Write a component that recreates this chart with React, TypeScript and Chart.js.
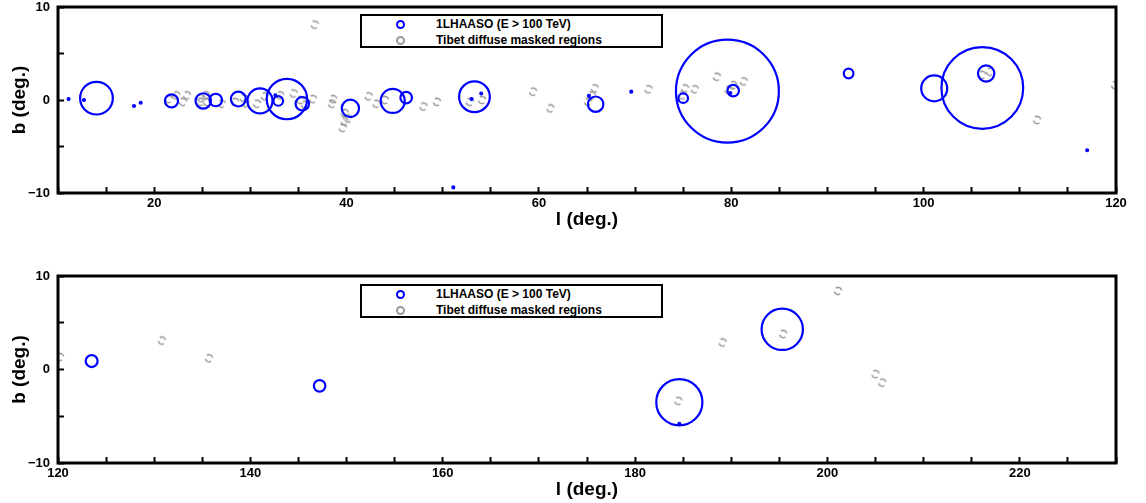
import React, { useEffect, useRef } from 'react';
import { Chart, registerables } from 'chart.js';

Chart.register(...registerables);

const FONT = '"Liberation Sans", Arial, Helvetica, sans-serif';
const BLUE = '#0000ff';
const GREY = '#9a9a9a';

// ---------- Top panel (l = 10..120) ----------
// 1LHAASO (E > 100 TeV) sources: longitude, latitude, extension radius (deg)
const topSrcL = [11.1, 12.7, 14.0, 17.9, 18.6, 21.8, 25.1, 26.4, 28.75, 31.0, 32.6, 32.9, 33.8, 35.4, 40.4, 44.8, 46.2, 51.1, 53.3, 53.0, 54.0, 65.2, 65.9, 69.6, 75.0, 79.6, 80.2, 79.9, 92.2, 101.1, 106.1, 106.5, 117.0];
const topSrcB = [0.1, 0.0, 0.2, -0.65, -0.3, -0.1, -0.1, 0.0, 0.1, -0.1, 0.5, -0.1, 0.1, -0.4, -0.9, -0.1, 0.25, -9.4, 0.35, 0.1, 0.7, 0.45, -0.45, 0.9, 0.2, 0.95, 1.0, 0.75, 2.85, 1.25, 1.3, 2.85, -5.4];
const topSrcR = [0.1, 0.1, 1.7, 0.1, 0.1, 0.68, 0.8, 0.65, 0.77, 1.3, 0.1, 0.5, 2.1, 0.7, 0.9, 1.25, 0.6, 0.1, 1.6, 0.1, 0.1, 0.1, 0.8, 0.1, 0.5, 5.35, 0.6, 0.1, 0.5, 1.35, 4.25, 0.85, 0.1];
// Tibet diffuse masked regions
const topMaskL = [21.5, 22.3, 23.0, 23.4, 24.8, 24.9, 25.5, 25.4, 27.0, 28.4, 29.3, 29.5, 30.7, 31.5, 33.1, 34.5, 35.2, 35.7, 36.5, 36.7, 38.5, 38.6, 39.8, 40.2, 39.8, 39.6, 42.3, 43.1, 44.0, 48.0, 49.4, 52.8, 54.1, 59.4, 61.2, 65.8, 65.5, 65.1, 71.4, 74.9, 75.2, 76.2, 78.5, 79.7, 80.2, 81.3, 106.1, 106.9, 111.8, 119.9];
const topMaskB = [0.1, 0.5, -0.2, 0.5, -0.2, 0.2, -0.2, 0.5, -0.4, -0.2, 0.2, -0.35, -0.4, 0.4, 0.5, 0.7, 0.0, -0.5, 0.1, 8.1, -0.4, 0.1, -1.4, -2.0, -2.3, -3.0, 0.4, -0.4, 0.0, -0.7, -0.2, -0.2, 0.0, 0.9, -0.9, 1.25, 0.5, -0.2, 1.15, 0.5, 1.25, 1.15, 2.5, 1.1, 1.6, 2.0, 2.7, 3.05, -2.15, 1.6];

// ---------- Bottom panel (l = 120..230) ----------
const botSrcL = [123.5, 147.2, 184.6, 184.6, 195.3];
const botSrcB = [0.9, -1.75, -3.5, -5.8, 4.3];
const botSrcR = [0.62, 0.6, 2.4, 0.1, 2.15];
const botMaskL = [120.2, 130.8, 135.7, 184.5, 189.1, 195.4, 201.1, 205.0, 205.7];
const botMaskB = [1.35, 3.1, 1.2, -3.35, 2.9, 3.8, 8.4, -0.5, -1.4];

// ---------- Axes ----------
const topXRange = [10, 120];
const botXRange = [120, 230];
const yRange = [-10, 10];
const topXLabels = [20, 40, 60, 80, 100, 120];
const botXLabels = [120, 140, 160, 180, 200, 220];
const yLabels = [-10, 0, 10];
const tickStep = 5;

const legendLabels = ['1LHAASO (E > 100 TeV)', 'Tibet diffuse masked regions'];

function fmt(v: number) {
  return v < 0 ? '\u2212' + Math.abs(v) : String(v);
}

function makeMaskMarker() {
  const c = document.createElement('canvas');
  c.width = 12;
  c.height = 12;
  const g = c.getContext('2d')!;
  g.strokeStyle = GREY;
  g.lineWidth = 1.6;
  g.beginPath();
  g.arc(6, 6, 3.6, -2.2, -0.15);
  g.stroke();
  g.beginPath();
  g.arc(6, 6, 3.6, 0.95, 2.95);
  g.stroke();
  return c;
}

const framePlugin = {
  id: 'frame',
  afterDraw(chart: any) {
    const { ctx, chartArea: a } = chart;
    ctx.save();
    ctx.strokeStyle = '#000';
    ctx.lineWidth = 3;
    ctx.strokeRect(a.left, a.top, a.right - a.left, a.bottom - a.top);
    ctx.restore();
  },
};

function buildConfig(
  srcL: number[], srcB: number[], srcR: number[],
  maskL: number[], maskB: number[],
  xRange: number[], xLabels: number[],
  padTop: number, xAxisHeight: number, titlePadBottom: number,
  marker: HTMLCanvasElement
): any {
  const srcData = srcL.map((l, i) => ({ x: l, y: srcB[i], r: srcR[i] }));
  const maskData = maskL.map((l, i) => ({ x: l, y: maskB[i] }));
  return {
    type: 'scatter',
    data: {
      datasets: [
        {
          label: legendLabels[0],
          data: srcData,
          pointStyle: 'circle',
          borderColor: BLUE,
          backgroundColor: 'rgba(0,0,0,0)',
          pointBorderWidth: 2.2,
          pointRadius: (ctx: any) => {
            const raw = ctx.raw;
            if (!raw) return 0;
            const s = ctx.chart.scales.x;
            return Math.abs(s.getPixelForValue(s.min + raw.r) - s.getPixelForValue(s.min));
          },
        },
        {
          label: legendLabels[1],
          data: maskData,
          pointStyle: marker,
          pointRadius: 4,
          borderColor: GREY,
        },
      ],
    },
    options: {
      responsive: false,
      animation: false,
      events: [],
      devicePixelRatio: 1,
      layout: { padding: { top: padTop, right: 30, left: 0, bottom: 0 } },
      plugins: { legend: { display: false }, tooltip: { enabled: false } },
      scales: {
        x: {
          type: 'linear',
          min: xRange[0],
          max: xRange[1],
          afterFit: (s: any) => {
            s.height = xAxisHeight;
            s.paddingLeft = 0;
            s.paddingRight = 0;
            s.paddingTop = 0;
            s.paddingBottom = 0;
          },
          border: { display: false },
          grid: { drawOnChartArea: false, drawTicks: true, tickLength: -6, tickColor: '#000', tickWidth: 2 },
          ticks: {
            stepSize: tickStep,
            autoSkip: false,
            maxRotation: 0,
            padding: 9,
            color: '#000',
            font: { family: FONT, size: 13, weight: 'bold' },
            callback: (v: number) => (xLabels.includes(v) ? fmt(v) : ''),
          },
          title: {
            display: true,
            text: 'l (deg.)',
            color: '#000',
            font: { family: FONT, size: 19, weight: 'bold' },
            padding: { top: 0, bottom: titlePadBottom },
          },
        },
        y: {
          type: 'linear',
          min: yRange[0],
          max: yRange[1],
          afterFit: (s: any) => {
            s.width = 58;
            s.paddingTop = 0;
            s.paddingBottom = 0;
            s.paddingLeft = 0;
            s.paddingRight = 0;
          },
          border: { display: false },
          grid: { drawOnChartArea: false, drawTicks: true, tickLength: -6, tickColor: '#000', tickWidth: 2 },
          ticks: {
            stepSize: tickStep,
            autoSkip: false,
            padding: 14,
            color: '#000',
            font: { family: FONT, size: 13, weight: 'bold' },
            callback: (v: number) => (yLabels.includes(v) ? fmt(v) : ''),
          },
          title: {
            display: true,
            text: 'b (deg.)',
            color: '#000',
            font: { family: FONT, size: 19, weight: 'bold' },
            padding: { top: 8.6, bottom: 0 },
          },
        },
      },
    },
    plugins: [framePlugin],
  };
}

function Legend({ top }: { top: number }) {
  const row = (color: string, text: string) => (
    <div style={{ display: 'flex', alignItems: 'center', height: 16 }}>
      <div style={{ width: 74, display: 'flex', justifyContent: 'flex-start' }}>
        <span
          style={{
            marginLeft: 34,
            width: 5,
            height: 5,
            borderRadius: '50%',
            border: `2px solid ${color}`,
            display: 'inline-block',
          }}
        />
      </div>
      <span style={{ fontFamily: FONT, fontWeight: 'bold', fontSize: 12, color: '#000', whiteSpace: 'nowrap' }}>{text}</span>
    </div>
  );
  return (
    <div
      style={{
        position: 'absolute',
        left: 360,
        top,
        width: 299,
        height: 30,
        border: '2px solid #000',
        background: '#fff',
        boxSizing: 'content-box',
      }}
    >
      {row(BLUE, legendLabels[0])}
      {row(GREY, legendLabels[1])}
    </div>
  );
}

export default function App() {
  const topRef = useRef<HTMLCanvasElement>(null);
  const botRef = useRef<HTMLCanvasElement>(null);

  useEffect(() => {
    const marker = makeMaskMarker();
    const c1 = new Chart(
      topRef.current!,
      buildConfig(topSrcL, topSrcB, topSrcR, topMaskL, topMaskB, topXRange, topXLabels, 7, 57, 18.6, marker)
    );
    const c2 = new Chart(
      botRef.current!,
      buildConfig(botSrcL, botSrcB, botSrcR, botMaskL, botMaskB, botXRange, botXLabels, 26, 40, 1.6, marker)
    );
    return () => {
      c1.destroy();
      c2.destroy();
    };
  }, []);

  return (
    <div style={{ position: 'fixed', left: 0, top: 0, width: 1146, height: 503, background: '#fff' }}>
      <canvas ref={topRef} width={1146} height={250} style={{ position: 'absolute', left: 0, top: 0, width: 1146, height: 250 }} />
      <canvas ref={botRef} width={1146} height={253} style={{ position: 'absolute', left: 0, top: 250, width: 1146, height: 253 }} />
      <Legend top={14} />
      <Legend top={284} />
    </div>
  );
}
